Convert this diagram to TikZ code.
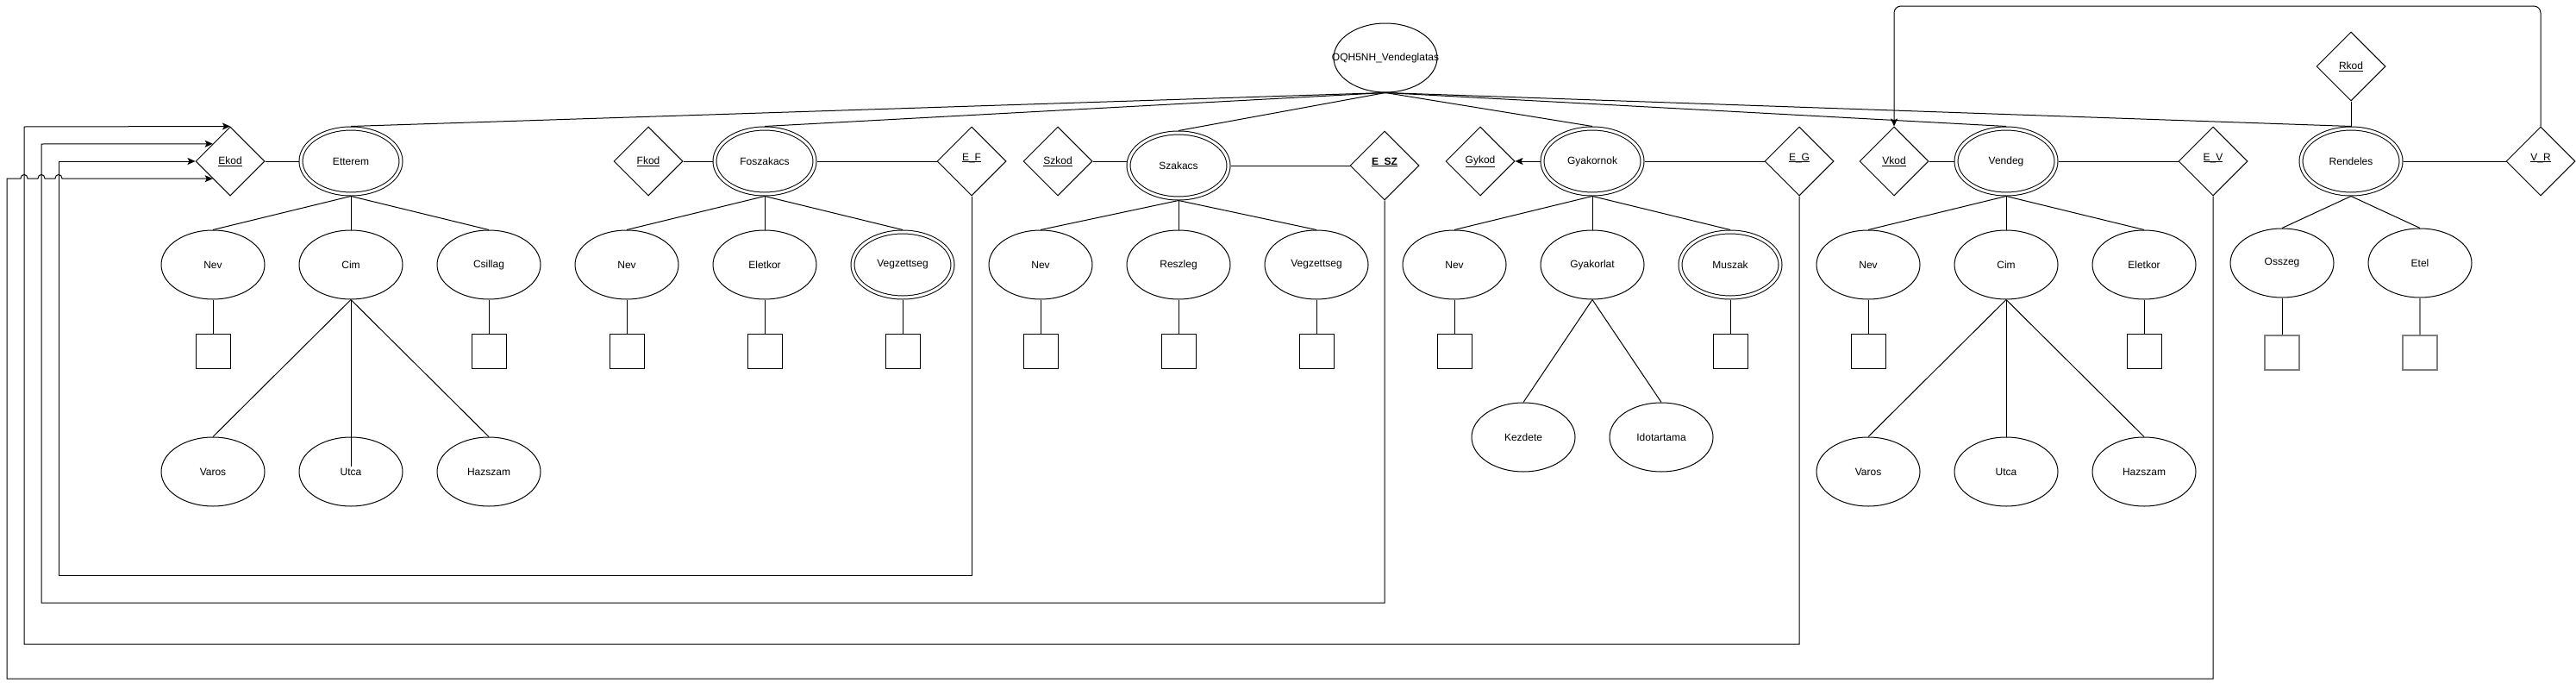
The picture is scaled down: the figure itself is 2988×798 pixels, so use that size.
\documentclass[tikz,border=0pt]{standalone}
\usepackage{fontspec}
\setmainfont{Liberation Sans}
\usetikzlibrary{shapes.geometric,arrows.meta}
\definecolor{rgray}{HTML}{7F7F7F}
\newcommand{\flatul}[1]{\underline{\smash{#1}}}
\begin{document}
\begin{tikzpicture}[x=1pt,y=-1pt,line width=1pt,
  every node/.style={font=\fontsize{12}{14}\selectfont, inner sep=0pt},
  attr/.style={ellipse, draw, minimum width=120pt, minimum height=80pt},
  wattr/.style={ellipse, draw, double, double distance=3pt, minimum width=116pt, minimum height=76pt, outer sep=2.5pt},
  keyd/.style={diamond, draw, minimum width=80pt, minimum height=80pt},
  valbox/.style={rectangle, draw, minimum width=40pt, minimum height=40pt},
  gbox/.style={rectangle, draw=rgray, line width=1.5pt, minimum width=40pt, minimum height=40pt},
  arr/.style={-{Stealth[length=9pt,width=8pt,inset=2pt]}}
]
\useasboundingbox (0,0) rectangle (2988,798);

% top
\node[attr] (OQH) at (1607,67) {};
\node (OQHtext) at (OQH.center) {OQH5NH\_Vendeglatas};

% Etterem
\node[wattr] (Ett) at (407,187) {Etterem};
\node[keyd] (Ekod) at (267,187) {\underline{Ekod}};
\node[attr] (EttNev) at (247,307) {Nev};
\node[attr] (EttCim) at (407,307) {Cim};
\node[attr] (EttCsi) at (567,307) {Csillag};
\node[valbox] (EttNevB) at (247,407) {};
\node[valbox] (EttCsiB) at (567,407) {};
\node[attr] (EttVaros) at (247,547) {Varos};
\node[attr] (EttUtca) at (407,547) {Utca};
\node[attr] (EttHaz) at (567,547) {Hazszam};

% Foszakacs
\node[wattr] (Fosz) at (887,187) {Foszakacs};
\node[keyd] (Fkod) at (752,187) {\underline{Fkod}};
\node[keyd] (EF) at (1127,187) {\flatul{E\_F}};
\node[attr] (FNev) at (727,307) {Nev};
\node[attr] (FElet) at (887,307) {Eletkor};
\node[wattr] (FVegz) at (1047,307) {Vegzettseg};
\node[valbox] (FNevB) at (727,407) {};
\node[valbox] (FEletB) at (887,407) {};
\node[valbox] (FVegzB) at (1047,407) {};

% Szakacs
\node[wattr] (Szak) at (1367,192) {Szakacs};
\node[keyd] (Szkod) at (1227,187) {\underline{Szkod}};
\node[keyd] (ESZ) at (1606,192) {\textbf{\flatul{E\_SZ}}};
\node[attr] (SNev) at (1207,307) {Nev};
\node[attr] (SResz) at (1367,307) {Reszleg};
\node[attr] (SVegz) at (1527,307) {Vegzettseg};
\node[valbox] (SNevB) at (1207,407) {};
\node[valbox] (SReszB) at (1367,407) {};
\node[valbox] (SVegzB) at (1527,407) {};

% Gyakornok
\node[wattr] (Gyak) at (1847,187) {Gyakornok};
\node[keyd] (Gykod) at (1717,187) {\underline{Gykod}};
\node[keyd] (EG) at (2087,187) {\flatul{E\_G}};
\node[attr] (GNev) at (1687,307) {Nev};
\node[attr] (GGyak) at (1847,307) {Gyakorlat};
\node[wattr] (GMusz) at (2007,307) {Muszak};
\node[valbox] (GNevB) at (1687,407) {};
\node[valbox] (GMuszB) at (2007,407) {};
\node[attr] (GKezd) at (1767,507) {Kezdete};
\node[attr] (GIdo) at (1927,507) {Idotartama};

% Vendeg
\node[wattr] (Vend) at (2327,187) {Vendeg};
\node[keyd] (Vkod) at (2197,187) {\underline{Vkod}};
\node[keyd] (EV) at (2567,187) {\flatul{E\_V}};
\node[attr] (VNev) at (2167,307) {Nev};
\node[attr] (VCim) at (2327,307) {Cim};
\node[attr] (VElet) at (2487,307) {Eletkor};
\node[valbox] (VNevB) at (2167,407) {};
\node[valbox] (VEletB) at (2487,407) {};
\node[attr] (VVaros) at (2167,547) {Varos};
\node[attr] (VUtca) at (2327,547) {Utca};
\node[attr] (VHaz) at (2487,547) {Hazszam};

% Rendeles
\node[wattr] (Rend) at (2727,187) {Rendeles};
\node[keyd] (Rkod) at (2727,77) {\underline{Rkod}};
\node[keyd] (VR) at (2947,187) {\flatul{V\_R}};
\node[attr] (ROssz) at (2647,305) {Osszeg};
\node[attr] (REtel) at (2807,305) {Etel};
\node[gbox] (ROsszB) at (2647,409) {};
\node[gbox] (REtelB) at (2807,409) {};

% connectors from root
\foreach \e in {Ett,Fosz,Szak,Gyak,Vend,Rend}
  \draw (OQH.south) -- (\e.north);

% keys and relationships
\draw (Ekod.east) -- (Ett.west);
\draw (Fkod.east) -- (Fosz.west);
\draw (Fosz.east) -- (EF.west);
\draw (Szkod.east) -- (Szak.west |- Szkod.east);
\draw (Szak.east) -- (ESZ.west);
\draw[arr] (Gyak.west) -- (Gykod.east);
\draw (Gyak.east) -- (EG.west);
\draw (Vkod.east) -- (Vend.west);
\draw (Vend.east) -- (EV.west);
\draw (Rkod.south) -- (Rend.north);
\draw (Rend.east) -- (VR.west);

% attributes
\foreach \p/\c in {Ett/EttNev,Ett/EttCim,Ett/EttCsi,EttNev/EttNevB,EttCsi/EttCsiB,EttCim/EttVaros,EttCim/EttHaz,
  Fosz/FNev,Fosz/FElet,Fosz/FVegz,FNev/FNevB,FElet/FEletB,FVegz/FVegzB,
  Szak/SNev,Szak/SResz,Szak/SVegz,SNev/SNevB,SResz/SReszB,SVegz/SVegzB,
  Gyak/GNev,Gyak/GGyak,Gyak/GMusz,GNev/GNevB,GMusz/GMuszB,GGyak/GKezd,GGyak/GIdo,
  Vend/VNev,Vend/VCim,Vend/VElet,VNev/VNevB,VElet/VEletB,VCim/VVaros,VCim/VUtca,VCim/VHaz,
  Rend/ROssz,Rend/REtel,ROssz/ROsszB}
  \draw (\p.south) -- (\c.north);
\draw[shorten >=6pt] (EttCim.south) -- (EttUtca.center);
\draw[rgray, line width=1.5pt] (REtel.south) -- (REtelB.north);

% loops back to Ekod
\draw[arr] (EF.south) -- (EF.south |- 0,667) -- (68,667) -- (68,187) -- (Ekod.west);
\draw[arr] (ESZ.south) -- (ESZ.south |- 0,699) -- (48,699) -- (48,167) -- (Ekod.north west);
\draw[arr] (EG.south) -- (EG.south |- 0,747) -- (28,747) -- (28,147) -- (Ekod.north);
\draw[arr] (EV.south) -- (EV.south |- 0,787) -- (8,787) -- (8,207)
  -- (24,207) .. controls (24,201) and (32,201) .. (32,207)
  -- (44,207) .. controls (44,201) and (52,201) .. (52,207)
  -- (64,207) .. controls (64,201) and (72,201) .. (72,207)
  -- (Ekod.south west);
\draw[arr, rounded corners=8pt] (VR.north) -- (2947,7) -- (2197,7) -- (Vkod.north);
\end{tikzpicture}
\end{document}
